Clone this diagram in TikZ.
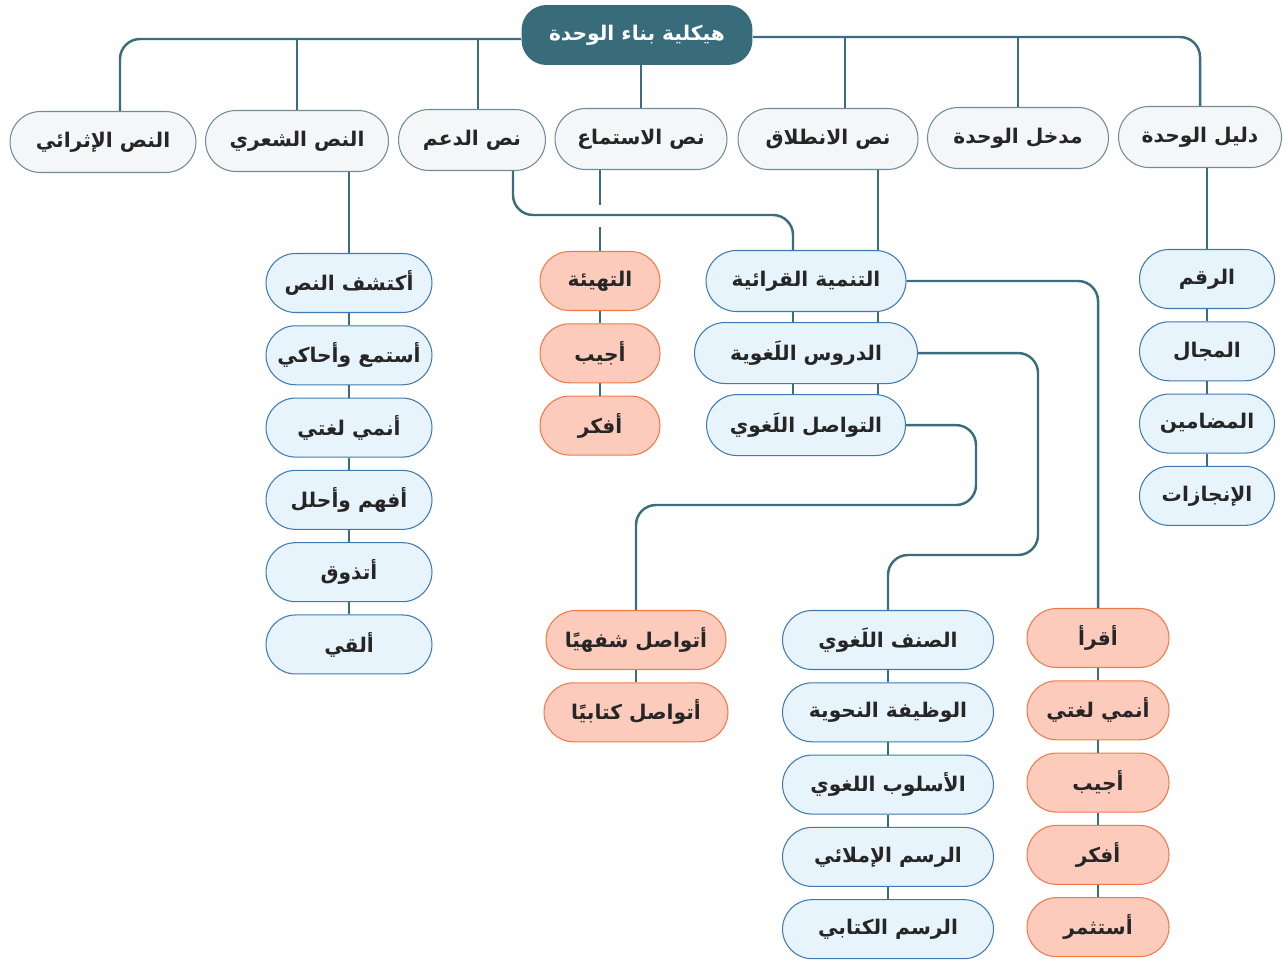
\documentclass[tikz,border=0pt]{standalone}
\usepackage{fontspec}
\newfontfamily\arabicfont[Script=Arabic]{DejaVu Sans}
\TeXXeTstate=1
\usetikzlibrary{positioning, shapes.misc}
\definecolor{linkcolor}{RGB}{58,110,124}
\definecolor{headcolor}{RGB}{56,108,122}
\definecolor{partfill}{RGB}{244,246,248}
\definecolor{partdraw}{RGB}{112,140,152}
\definecolor{bluefill}{RGB}{231,244,252}
\definecolor{bluedraw}{RGB}{62,122,180}
\definecolor{peachfill}{RGB}{253,203,188}
\definecolor{peachdraw}{RGB}{240,122,72}
\newcommand{\rl}[1]{\beginR#1\endR}

\begin{document}
\begin{tikzpicture}[x=0.02cm, y=-0.02cm, node distance=0.245cm,
    every node/.style={font=\arabicfont\bfseries\fontsize{11.5}{14}\selectfont, text=black!85},
    pill/.style={rounded rectangle, draw, line width=0.6pt, minimum height=1.18cm, inner sep=0pt},
    partbox/.style={pill, fill=partfill, draw=partdraw, minimum height=1.22cm},
    bluebox/.style={pill, fill=bluefill, draw=bluedraw},
    peachbox/.style={pill, fill=peachfill, draw=peachdraw},
    headbox/.style={rectangle, rounded corners=0.5cm, fill=headcolor, text=white, minimum width=4.62cm, minimum height=1.2cm},
    link/.style={draw=linkcolor, line width=1.4pt}]
    \useasboundingbox (0,0) rectangle (1283,960);

    \node[headbox] (head) at (637,35) {\rl{هيكلية بناء الوحدة}};

    % the seven parts of the unit
    \node[partbox, minimum width=3.72cm] (ithrai) at (103,142) {\rl{النص الإثرائي}};
    \node[partbox, minimum width=3.66cm] (shiri) at (297,141) {\rl{النص الشعري}};
    \node[partbox, minimum width=2.94cm] (daam) at (472,140) {\rl{نص الدعم}};
    \node[partbox, minimum width=3.44cm] (istima) at (641,139) {\rl{نص الاستماع}};
    \node[partbox, minimum width=3.6cm] (intilaq) at (828,139) {\rl{نص الانطلاق}};
    \node[partbox, minimum width=3.62cm] (madkhal) at (1018,138) {\rl{مدخل الوحدة}};
    \node[partbox, minimum width=3.26cm] (dalil) at (1200,137) {\rl{دليل الوحدة}};

    \coordinate (hl) at ([yshift=-0.08cm]head.west);
    \coordinate (hr) at ([yshift=-0.04cm]head.east);
    \draw[link, rounded corners=0.4cm] (hl) -| ([xshift=0.34cm]ithrai.north);
    \draw[link, rounded corners=0.4cm] (hr) -| (dalil.north);
    \draw[link] (shiri.north) -- (shiri.north |- hl);
    \draw[link] ([xshift=0.12cm]daam.north) -- ([xshift=0.12cm]daam.north |- hl);
    \draw[link] ([xshift=0.34cm]intilaq.north) -- ([xshift=0.34cm]intilaq.north |- hr);
    \draw[link] (madkhal.north) -- (madkhal.north |- hr);
    \draw[link] (istima.north |- head.south) -- (istima.north);

    % poem column
    \node[bluebox, minimum width=3.32cm] (kashf) at (349,283) {\rl{أكتشف النص}};
    \node[bluebox, minimum width=3.32cm] [below=of kashf] (hakiy) {\rl{أستمع وأحاكي}};
    \node[bluebox, minimum width=3.32cm] [below=of hakiy] (lughati) {\rl{أنمي لغتي}};
    \node[bluebox, minimum width=3.32cm] [below=of lughati] (afham) {\rl{أفهم وأحلل}};
    \node[bluebox, minimum width=3.32cm] [below=of afham] (atadhawaq) {\rl{أتذوق}};
    \node[bluebox, minimum width=3.32cm] [below=of atadhawaq] (olqi) {\rl{ألقي}};
    \draw[link] (kashf.north |- shiri.south) -- (kashf.north);
    \foreach \a/\b in {kashf/hakiy, hakiy/lughati, lughati/afham, afham/atadhawaq, atadhawaq/olqi}
        \draw[link] (\a.south) -- (\b.north);

    % listening column
    \node[peachbox, minimum width=2.4cm] (tahyia) at (600,281) {\rl{التهيئة}};
    \node[peachbox, minimum width=2.4cm] [below=of tahyia] (ujib) {\rl{أجيب}};
    \node[peachbox, minimum width=2.4cm] [below=of ujib] (ufakkir) {\rl{أفكر}};
    \draw[link] (tahyia.north |- istima.south) -- (tahyia.north |- 0,205);
    \draw[link] (tahyia.north |- 0,227) -- (tahyia.north);
    \draw[link] (tahyia.south) -- (ujib.north);
    \draw[link] (ujib.south) -- (ufakkir.north);

    % middle column
    \node[bluebox, minimum width=4.0cm, minimum height=1.22cm] (tanmiya) at (806,281) {\rl{التنمية القرائية}};
    \node[bluebox, minimum width=4.46cm, minimum height=1.22cm] [below=0.2cm of tanmiya] (durus) {\rl{الدروس اللَغوية}};
    \node[bluebox, minimum width=3.98cm, minimum height=1.22cm] [below=0.2cm of durus] (tawasul) {\rl{التواصل اللَغوي}};
    \coordinate (jl) at ([xshift=-0.26cm]tanmiya.north);
    \coordinate (jr) at ([xshift=1.44cm]tanmiya.north);
    \draw[link, rounded corners=0.4cm] ([xshift=0.82cm]daam.south) |- (jl |- 0,215) -- (jl);
    \draw[link] (jr |- intilaq.south) -- (jr);
    \foreach \a/\b in {tanmiya/durus, durus/tawasul} {
        \draw[link] (jl |- \a.south) -- (jl |- \b.north);
        \draw[link] (jr |- \a.south) -- (jr |- \b.north);
    }

    % guide column
    \node[bluebox, minimum width=2.7cm] (raqm) at (1207,279) {\rl{الرقم}};
    \node[bluebox, minimum width=2.7cm] [below=of raqm] (majal) {\rl{المجال}};
    \node[bluebox, minimum width=2.7cm] [below=of majal] (madamin) {\rl{المضامين}};
    \node[bluebox, minimum width=2.7cm] [below=of madamin] (injazat) {\rl{الإنجازات}};
    \draw[link] (raqm.north |- dalil.south) -- (raqm.north);
    \foreach \a/\b in {raqm/majal, majal/madamin, madamin/injazat}
        \draw[link] (\a.south) -- (\b.north);

    % bottom columns
    \node[peachbox, minimum width=3.6cm] (shafahi) at (636,640) {\rl{أتواصل شفهيًا}};
    \node[peachbox, minimum width=3.68cm] [below=of shafahi] (kitabi) {\rl{أتواصل كتابيًا}};
    \draw[link] (shafahi.south) -- (kitabi.north);

    \node[bluebox, minimum width=4.22cm] (sinf) at (888,640) {\rl{الصنف اللَغوي}};
    \node[bluebox, minimum width=4.22cm] [below=of sinf] (wazifa) {\rl{الوظيفة النحوية}};
    \node[bluebox, minimum width=4.22cm] [below=of wazifa] (uslub) {\rl{الأسلوب اللغوي}};
    \node[bluebox, minimum width=4.22cm] [below=of uslub] (imlai) {\rl{الرسم الإملائي}};
    \node[bluebox, minimum width=4.22cm] [below=of imlai] (kitabiy) {\rl{الرسم الكتابي}};
    \foreach \a/\b in {sinf/wazifa, wazifa/uslub, uslub/imlai, imlai/kitabiy}
        \draw[link] (\a.south) -- (\b.north);

    \node[peachbox, minimum width=2.84cm] (aqra) at (1098,638) {\rl{أقرأ}};
    \node[peachbox, minimum width=2.84cm] [below=of aqra] (unmi) {\rl{أنمي لغتي}};
    \node[peachbox, minimum width=2.84cm] [below=of unmi] (ujib2) {\rl{أجيب}};
    \node[peachbox, minimum width=2.84cm] [below=of ujib2] (ufakkir2) {\rl{أفكر}};
    \node[peachbox, minimum width=2.84cm] [below=of ufakkir2] (astathmir) {\rl{أستثمر}};
    \foreach \a/\b in {aqra/unmi, unmi/ujib2, ujib2/ufakkir2, ufakkir2/astathmir}
        \draw[link] (\a.south) -- (\b.north);

    \draw[link, rounded corners=0.4cm] (tanmiya.east) -| (aqra.north);
    \draw[link, rounded corners=0.4cm] (durus.east) -| (1038,555) -| (sinf.north);
    \draw[link, rounded corners=0.4cm] (tawasul.east) -| (976,505) -| (shafahi.north);
\end{tikzpicture}
\end{document}
